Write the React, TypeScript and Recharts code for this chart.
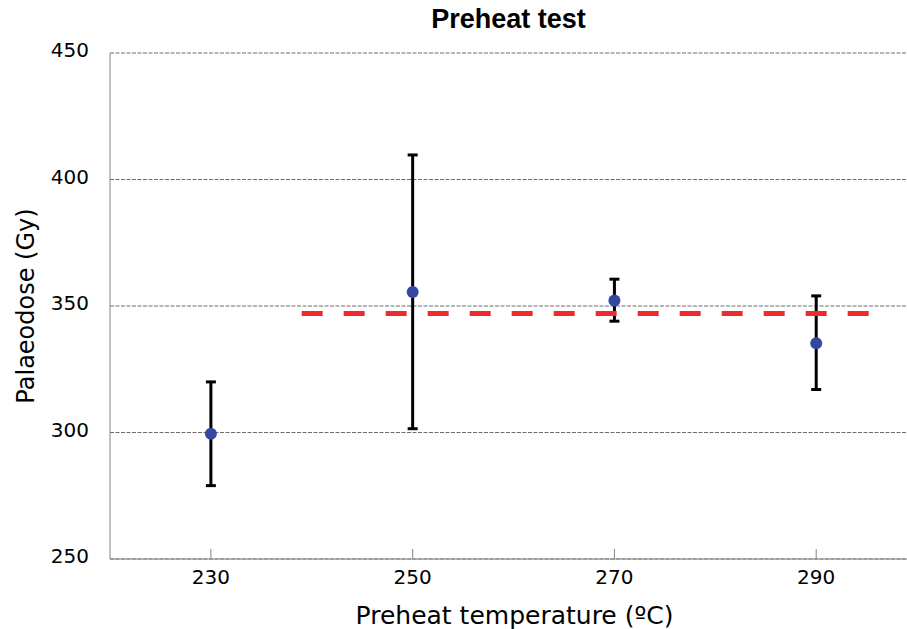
import {
  CartesianGrid,
  ErrorBar,
  ReferenceLine,
  Scatter,
  ScatterChart,
  XAxis,
  YAxis,
} from "recharts";

const temps = [230, 250, 270, 290];
const dose = [299.5, 355.5, 352.2, 335.3];
const doseLow = [279, 301.5, 344, 317];
const doseHigh = [320, 409.7, 360.6, 354];
const yTicks = [250, 300, 350, 400, 450];
const meanDose = 347;
const meanSpan = [239, 296];

const data = temps.map((t, i) => ({
  temp: t,
  dose: dose[i],
  err: [dose[i] - doseLow[i], doseHigh[i] - dose[i]],
}));

const font = "'DejaVu Sans', Verdana, sans-serif";
const grey = "#858585";

export default function App() {
  return (
    <div style={{ position: "absolute", left: 0, top: 0, width: 907, height: 629, background: "#fff" }}>
      <div
        style={{
          position: "absolute",
          top: 4,
          left: 110,
          width: 797,
          textAlign: "center",
          fontFamily: "'Liberation Sans', Arial, sans-serif",
          fontWeight: "bold",
          fontSize: 27,
          color: "#000",
        }}
      >
        Preheat test
      </div>
      <ScatterChart width={907} height={629} margin={{ top: 53, right: 0, bottom: 0, left: 0 }}>
        <CartesianGrid vertical={false} stroke="#6e6e6e" strokeWidth={1.2} strokeDasharray="4 1.5" />
        <XAxis
          type="number"
          dataKey="temp"
          domain={[220, 299]}
          ticks={temps}
          height={70}
          stroke={grey}
          tickSize={-10}
          tickMargin={21}
          tick={{ fill: "#000", fontSize: 20, fontFamily: font }}
          label={{
            value: "Preheat temperature (ºC)",
            position: "insideBottom",
            offset: 5,
            dx: 6,
            style: { fill: "#000", fontSize: 25, fontFamily: font },
          }}
        />
        <YAxis
          type="number"
          dataKey="dose"
          domain={[250, 450]}
          ticks={yTicks}
          width={110}
          stroke={grey}
          tickLine={false}
          tickSize={0}
          tickMargin={21}
          tick={{ fill: "#000", fontSize: 20, fontFamily: font, dy: -3 }}
          label={{
            value: "Palaeodose (Gy)",
            angle: -90,
            position: "insideLeft",
            offset: 25,
            style: { fill: "#000", fontSize: 24, fontFamily: font, textAnchor: "middle" },
          }}
        />
        <Scatter
          data={data}
          isAnimationActive={false}
          shape={(p: any) => <circle cx={p.cx} cy={p.cy} r={6} fill="#3548a0" />}
        >
          <ErrorBar dataKey="err" direction="y" width={5} stroke="#000" strokeWidth={3} />
        </Scatter>
        <ReferenceLine
          segment={[
            { x: meanSpan[0], y: meanDose },
            { x: meanSpan[1], y: meanDose },
          ]}
          stroke="#ee2a2f"
          strokeWidth={5}
          strokeDasharray="21 21"
        />
      </ScatterChart>
    </div>
  );
}
